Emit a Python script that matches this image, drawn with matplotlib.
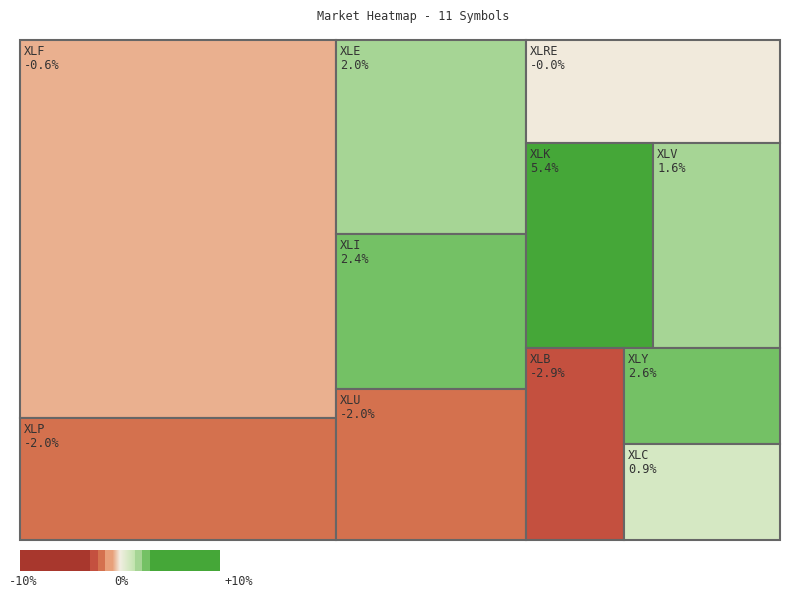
"""
Market heatmap (treemap) of 11 sector ETFs, tile area = weight, colour = daily % change.

Layout: recursive binary split by item count (n // 2), cutting along the
longer side of the current rectangle in proportion to the summed weights.

Output: out.png (800x600)
"""

import matplotlib
matplotlib.use("Agg")
import matplotlib.pyplot as plt
import numpy as np
from matplotlib.colors import to_rgb
from matplotlib.patches import Rectangle

# --- data -------------------------------------------------------------------
SYMBOLS = ["XLF", "XLP", "XLE", "XLI", "XLU", "XLRE", "XLK", "XLV", "XLB", "XLY", "XLC"]
WEIGHTS = [119.4, 38.6, 36.9, 29.5, 28.7, 26.2, 26.0, 26.0, 18.8, 15.0, 15.0]
PCT_CHANGE = [-0.6, -2.0, 2.0, 2.4, -2.0, -0.04, 5.4, 1.6, -2.9, 2.6, 0.9]

LEGEND_TICKS = [-10, 0, 10]
LEGEND_LABELS = ["-10%", "0%", "+10%"]

# --- colour scale -------------------------------------------------------------
DARK_RED = "#A8372D"
RED = "#C4503F"
ORANGE = "#D4714E"
LIGHT_ORANGE = "#E8A07A"
NEUTRAL = "#F2EEE2"
PALE_GREEN = "#C2E4AE"
LIGHT_GREEN = "#A6D595"
GREEN = "#74C165"
DARK_GREEN = "#45A738"

EDGE = "#666666"
TEXT = "#333333"
FONT = "DejaVu Sans Mono"
FS = 8.6


def mix(c1, c2, t):
    a, b = np.array(to_rgb(c1)), np.array(to_rgb(c2))
    return tuple(a + (b - a) * t)


def pct_color(p):
    if p <= -3:
        return to_rgb(DARK_RED)
    if p <= -2.25:
        return to_rgb(RED)
    if p <= -1.5:
        return to_rgb(ORANGE)
    if p <= -0.75:
        return to_rgb(LIGHT_ORANGE)
    if p < 0:
        return mix(NEUTRAL, LIGHT_ORANGE, -p / 0.75)
    if p < 1.5:
        return mix(NEUTRAL, PALE_GREEN, p / 1.5)
    if p < 2.25:
        return to_rgb(LIGHT_GREEN)
    if p < 3:
        return to_rgb(GREEN)
    return to_rgb(DARK_GREEN)


# --- layout -------------------------------------------------------------------
def split_layout(idx, weights, x, y, w, h, out):
    if len(idx) == 1:
        out[idx[0]] = (x, y, w, h)
        return
    mid = len(idx) // 2
    first, second = idx[:mid], idx[mid:]
    frac = sum(weights[i] for i in first) / sum(weights[i] for i in idx)
    if w >= h:
        split_layout(first, weights, x, y, w * frac, h, out)
        split_layout(second, weights, x + w * frac, y, w * (1 - frac), h, out)
    else:
        split_layout(first, weights, x, y, w, h * frac, out)
        split_layout(second, weights, x, y + h * frac, w, h * (1 - frac), out)


def main():
    fig = plt.figure(figsize=(8, 6), dpi=100)
    ax = fig.add_axes([0, 0, 1, 1])
    ax.set_xlim(0, 800)
    ax.set_ylim(600, 0)
    ax.axis("off")

    order = sorted(range(len(SYMBOLS)), key=lambda i: -WEIGHTS[i])
    rects = {}
    split_layout(order, WEIGHTS, 20, 40, 760, 500, rects)

    for i, sym in enumerate(SYMBOLS):
        x, y, w, h = rects[i]
        ax.add_patch(Rectangle((x, y), w, h, facecolor=pct_color(PCT_CHANGE[i]),
                               edgecolor=EDGE, linewidth=1.5))
        ax.text(x + 4, y + 15, sym, fontsize=FS, family=FONT, color=TEXT, va="baseline")
        ax.text(x + 4, y + 29, f"{PCT_CHANGE[i]:.1f}%", fontsize=FS, family=FONT,
                color=TEXT, va="baseline")

    ax.text(413, 20, f"Market Heatmap - {len(SYMBOLS)} Symbols", fontsize=FS,
            family=FONT, color=TEXT, ha="center", va="baseline")

    # colour legend: one column per 0.1 %
    steps = np.linspace(-10, 10, 200, endpoint=False) + 0.05
    strip = np.array([[pct_color(p) for p in steps]])
    ax.imshow(strip, extent=(20, 220, 571, 550), aspect="auto", interpolation="nearest")
    ax.set_xlim(0, 800)
    ax.set_ylim(600, 0)
    for t, lab, dx in zip(LEGEND_TICKS, LEGEND_LABELS, [3.5, 1.5, 18.5]):
        ax.text(20 + (t + 10) * 10 + dx, 585, lab, fontsize=FS, family=FONT,
                color=TEXT, ha="center", va="baseline")

    fig.savefig("out.png", dpi=100)
    plt.close(fig)


if __name__ == "__main__":
    main()
